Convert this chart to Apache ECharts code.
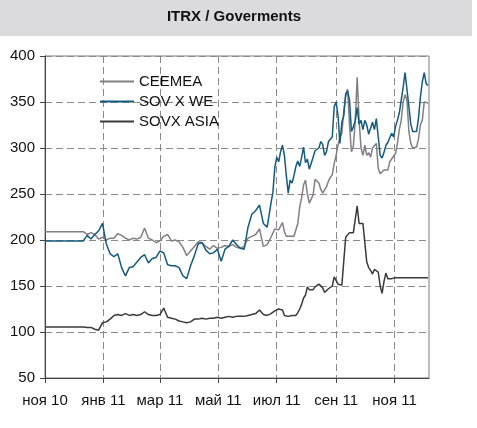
<!DOCTYPE html>
<html><head><meta charset="utf-8">
<script src="https://cdn.jsdelivr.net/npm/echarts/dist/echarts.min.js"></script>
<style>html,body{margin:0;padding:0;background:#fff}#c{width:477px;height:428px}</style>
</head><body><div id="c"></div>
<script>
// x values: days since 1 Nov 2010
const dayOffsets = [0,
40,44,48,52,56,60,64,68,72,76,
80,84,88,92,96,100,104,108,112,116,
120,124,128,132,136,140,144,148,152,156,
160,164,168,172,176,180,184,188,192,196,
200,204,208,212,216,220,224,228,232,236,
238,240,242,244,246,248,250,252,254,256,
258,260,262,264,266,268,270,272,274,276,
278,280,282,284,286,288,290,292,294,296,
298,300,302,304,306,308,310,312,314,316,
318,320,322,324,326,328,330,332,334,336,
338,340,342,344,346,348,350,352,354,356,
358,360,362,364,366,368,370,372,374,376,
378,380,382,384,386,388,390,392,394,396,
398,400];

const ceemea = [209,
209,206,208,206,201,203,200,202,202,207,
205,202,200,202,201,203,213,202,200,197,
199,204,206,199,200,198,192,183,188,193,
198,197,193,190,194,191,192,194,193,195,
192,191,193,202,204,206,212,193,195,203,
204,212,214,211,215,219,209,204,206,204,
205,204,206,218,236,246,260,265,250,240,
238,249,266,267,262,255,251,250,258,264,
268,271,283,292,303,312,316,340,356,364,
325,296,302,330,377,330,300,292,303,292,
295,290,300,298,305,278,272,271,276,278,
276,285,288,290,294,305,320,330,350,358,
352,318,305,300,299,301,310,325,330,350,
352,349];

const sovXWe = [199,
199,205,201,206,210,218,196,185,182,185,
170,161,170,171,176,181,184,175,180,181,
188,186,173,172,172,170,161,158,172,183,
196,197,189,185,186,190,177,190,193,200,
195,191,190,214,228,232,238,218,214,240,
252,279,290,285,296,303,292,270,251,265,
262,270,280,286,280,290,301,284,288,277,
276,290,297,296,300,307,304,292,296,307,
306,312,345,350,335,305,328,335,359,362,
352,318,323,330,344,326,330,320,330,325,
315,316,328,320,332,312,292,289,295,303,
306,305,316,312,323,330,338,352,366,382,
384,345,326,318,317,318,332,355,372,382,
370,368];

const sovxAsia = [105.5,
105.5,105,105,103,102,110,111,114,118,119,
118,120,118,119,118,119,122,119,118,118,
119,126,116,115,114,112,111,110,111,114,
114,115,114,115,115,116,115,116,117,116,
117,117,117,118,119,120,124,119,118,120,
121,123,125,125,125,124,118,117,117,118,
118,117,118,121,125,130,137,140,149,146,
147,146,149,150,152,151,148,143,144,147,
148,150,160,158,152,151,151,152,203,204,
208,206,208,207,237,218,218,218,218,176,
170,167,163,168,166,165,150,142,155,164,
158,159,158,159,159,159,159,159,159,159,
159,159,159,159,159,159,159,159,159,159,
159,159];

const seriesNames = ['CEEMEA', 'SOV X WE', 'SOVX ASIA'];
const tickDays = [0, 61, 120, 181, 242, 304, 365];
const tickLabels = ['ноя 10', 'янв 11', 'мар 11', 'май 11', 'июл 11', 'сен 11', 'ноя 11'];
const titleText = 'ITRX / Goverments';

const FONT = '"Liberation Sans", Arial, Helvetica, sans-serif';
const colors = ['#827e84', '#145b7e', '#3a3a3a'];
const pairs = vals => dayOffsets.map((d, i) => [d, vals[i]]);
const allVals = [ceemea, sovXWe, sovxAsia];

const chart = echarts.init(document.getElementById('c'), null, {renderer: 'canvas'});
chart.setOption({
  animation: false,
  backgroundColor: '#ffffff',
  graphic: [{type: 'rect', z: -10, shape: {x: 0, y: 0, width: 472, height: 36}, style: {fill: '#dbdadc'}}],
  title: {text: titleText, left: 234, textAlign: 'center', top: 9, padding: 0,
    textStyle: {fontFamily: FONT, fontSize: 15, fontWeight: 'bold', color: '#111'}},
  legend: {orient: 'vertical', left: 99, top: 74, padding: 0, itemWidth: 34, itemHeight: 14, itemGap: 5,
    itemStyle: {opacity: 0}, data: seriesNames,
    textStyle: {fontFamily: FONT, fontSize: 15, color: '#111'}},
  grid: {left: 45, right: 48, top: 56, bottom: 50, show: true, borderColor: '#7a7a7a', borderWidth: 1},
  xAxis: {type: 'value', min: 0, max: 401,
    axisLine: {show: true, lineStyle: {color: '#444', width: 1}},
    axisTick: {show: true, customValues: tickDays, length: 5, lineStyle: {color: '#444'}},
    axisLabel: {customValues: tickDays, formatter: v => tickLabels[tickDays.indexOf(v)] || '',
      margin: 15, fontFamily: FONT, fontSize: 15, color: '#111'},
    splitLine: {show: true, lineStyle: {type: [7, 4], color: '#8a8a8a', width: 1}}},
  yAxis: {type: 'value', min: 50, max: 400, interval: 50,
    axisLine: {show: true, lineStyle: {color: '#444', width: 1}},
    axisTick: {show: true, length: 5, lineStyle: {color: '#444'}},
    axisLabel: {margin: 10, fontFamily: FONT, fontSize: 15, color: '#111'},
    splitLine: {show: true, lineStyle: {type: [7, 4], color: '#8a8a8a', width: 1}}},
  series: seriesNames.map((name, k) => ({
    name, type: 'line', symbol: 'none', data: pairs(allVals[k]),
    lineStyle: {color: colors[k], width: 1.5}, itemStyle: {color: colors[k]}
  }))
});
</script></body></html>
